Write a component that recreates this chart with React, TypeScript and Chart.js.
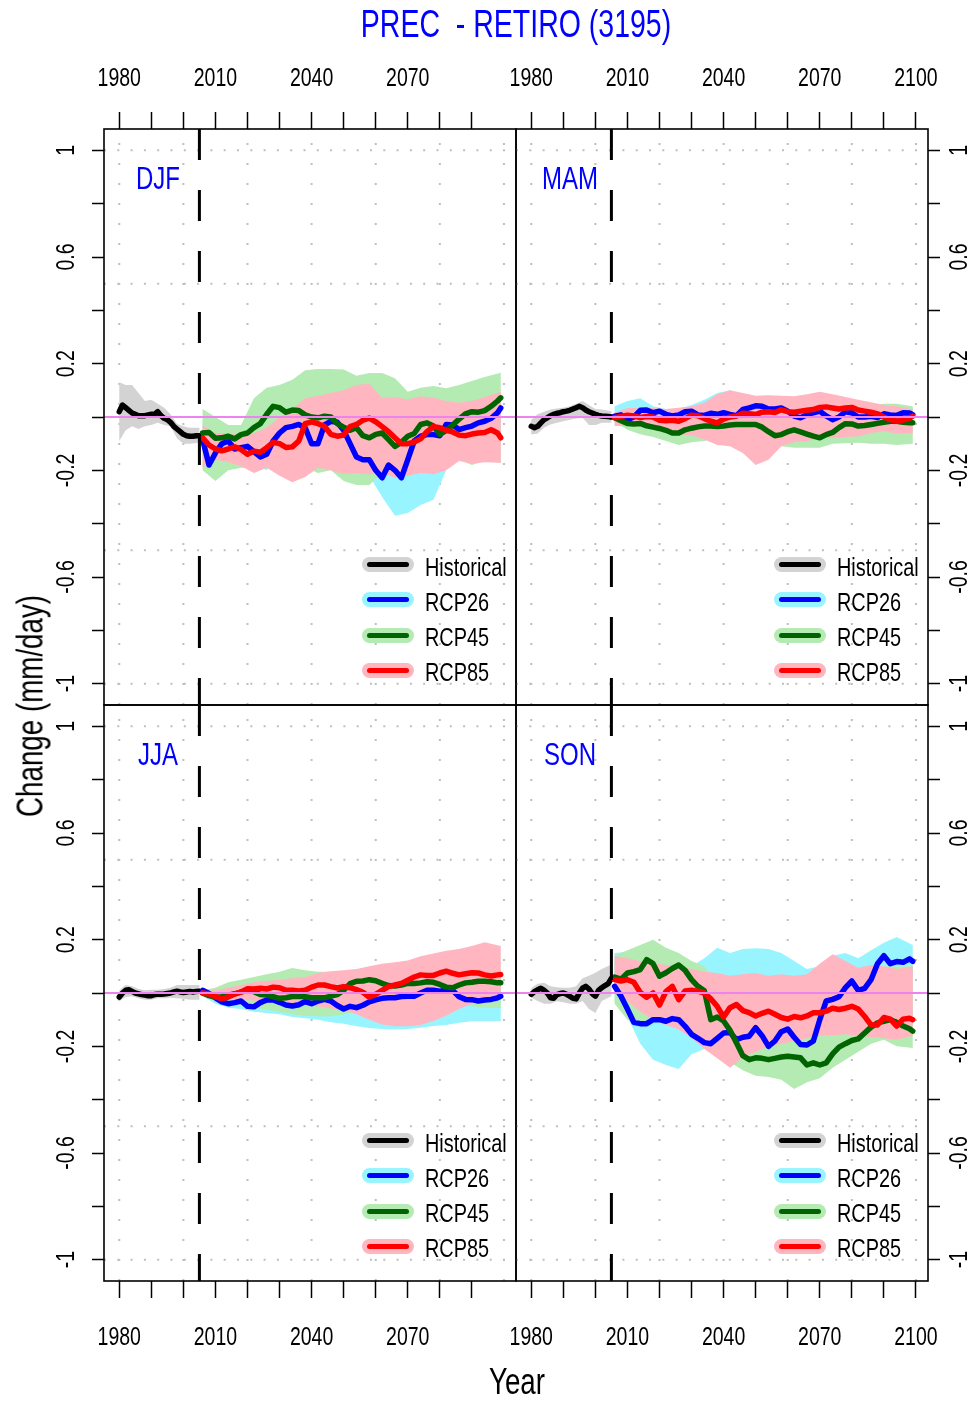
import React, { useEffect, useRef } from "react";
import { Chart, registerables } from "chart.js";

Chart.register(...registerables);

const PAGE_W = 978;
const PAGE_H = 1401;
const FONT = "'Liberation Sans', Arial, Helvetica, sans-serif";
const TEXT_SQUEEZE = 0.75;
const TICK_SIZE = 26;

const X_MIN = 1975.24;
const X_MAX = 2103.76;
const Y_MIN = -1.08;
const Y_MAX = 1.08;
const SCENARIO_START = 2005;
const ZERO = 0;

const X_TICKS_LEFT = [1980, 1990, 2000, 2010, 2020, 2030, 2040, 2050, 2060, 2070, 2080, 2090];
const X_TICKS_RIGHT = [1980, 1990, 2000, 2010, 2020, 2030, 2040, 2050, 2060, 2070, 2080, 2090, 2100];
const X_LABELS_LEFT = [1980, 2010, 2040, 2070];
const X_LABELS_RIGHT = [1980, 2010, 2040, 2070, 2100];
const Y_TICKS = [-1, -0.8, -0.6, -0.4, -0.2, 0, 0.2, 0.4, 0.6, 0.8, 1];
const Y_LABELS = [-1, -0.6, -0.2, 0.2, 0.6, 1];
const GRID_X = [1980, 2000, 2020, 2040, 2060, 2080, 2100];
const GRID_Y = [-1, -0.5, 0, 0.5, 1];

const SEASONS = ["DJF", "MAM", "JJA", "SON"];
const LEGEND_LABELS = ["Historical", "RCP26", "RCP45", "RCP85"];
const LINE_COLORS = ["#000000", "#0000FF", "#006400", "#FF0000"];
const BAND_COLORS = ["#D3D3D3", "#98F5FF", "#B3EBB3", "#FFB6C1"];
const ZERO_COLOR = "#EE82EE";
const GRID_COLOR = "#BEBEBE";

const HIST_YEARS = [1980, 1981, 1982, 1983, 1984, 1985, 1986, 1987, 1988, 1989, 1990, 1991, 1992, 1993, 1994, 1995, 1996, 1997, 1998, 1999, 2000, 2001, 2002, 2003, 2004, 2005];
const HIST_BAND_YEARS = [1980, 1982, 1984, 1986, 1988, 1990, 1992, 1994, 1996, 1998, 2000, 2002, 2005];
const RCP_YEARS = [2006, 2008, 2010, 2012, 2014, 2016, 2018, 2020, 2022, 2024, 2026, 2028, 2030, 2032, 2034, 2036, 2038, 2040, 2042, 2044, 2046, 2048, 2050, 2052, 2054, 2056, 2058, 2060, 2062, 2064, 2066, 2068, 2070, 2072, 2074, 2076, 2078, 2080, 2082, 2084, 2086, 2088, 2090, 2092, 2094, 2096, 2098, 2099];
const BAND_YEARS = [2006, 2010, 2014, 2018, 2022, 2026, 2030, 2034, 2038, 2042, 2046, 2050, 2054, 2058, 2062, 2066, 2070, 2074, 2078, 2082, 2086, 2090, 2094, 2099];

// ---------- DJF ----------
const DJF_HIST = [0.02, 0.045, 0.035, 0.025, 0.015, 0.01, 0.005, 0.005, 0.005, 0.008, 0.01, 0.01, 0.02, 0.005, -0.005, -0.01, -0.02, -0.035, -0.045, -0.055, -0.065, -0.07, -0.072, -0.072, -0.07, -0.07];
const DJF_HIST_LO = [-0.09, -0.05, -0.035, -0.045, -0.035, -0.03, -0.022, -0.03, -0.035, -0.08, -0.1, -0.1, -0.097];
const DJF_HIST_HI = [0.13, 0.12, 0.12, 0.09, 0.06, 0.065, 0.05, 0.035, 0.01, -0.025, -0.035, -0.04, -0.04];
const DJF_RCP26 = [-0.085, -0.18, -0.135, -0.1, -0.09, -0.12, -0.115, -0.11, -0.13, -0.15, -0.14, -0.09, -0.06, -0.04, -0.035, -0.028, -0.04, -0.1, -0.1, -0.03, -0.016, -0.02, -0.05, -0.1, -0.15, -0.16, -0.16, -0.2, -0.228, -0.18, -0.2, -0.228, -0.16, -0.09, -0.072, -0.066, -0.066, -0.07, -0.028, -0.03, -0.047, -0.04, -0.034, -0.022, -0.016, -0.005, 0.016, 0.034];
const DJF_RCP45 = [-0.06, -0.058, -0.08, -0.078, -0.072, -0.082, -0.066, -0.06, -0.04, -0.025, 0.01, 0.04, 0.035, 0.018, 0.026, 0.024, 0.008, 0.0, -0.003, 0.003, 0.0, -0.025, -0.038, -0.05, -0.04, -0.07, -0.078, -0.065, -0.06, -0.085, -0.11, -0.095, -0.072, -0.062, -0.028, -0.022, -0.034, -0.065, -0.05, -0.03, -0.008, 0.012, 0.02, 0.018, 0.024, 0.04, 0.06, 0.072];
const DJF_RCP85 = [-0.078, -0.105, -0.12, -0.127, -0.12, -0.112, -0.122, -0.14, -0.128, -0.132, -0.115, -0.095, -0.1, -0.114, -0.112, -0.09, -0.025, -0.018, -0.025, -0.035, -0.065, -0.072, -0.068, -0.036, -0.028, -0.012, -0.004, -0.018, -0.036, -0.055, -0.078, -0.1, -0.1, -0.094, -0.082, -0.055, -0.036, -0.04, -0.05, -0.056, -0.068, -0.07, -0.064, -0.06, -0.058, -0.048, -0.06, -0.078];
const DJF_26_LO = [-0.13, -0.23, -0.17, -0.18, -0.18, -0.2, -0.14, -0.12, -0.16, -0.2, -0.15, -0.15, -0.2, -0.22, -0.3, -0.37, -0.36, -0.33, -0.31, -0.2, -0.12, -0.1, -0.08, -0.05];
const DJF_26_HI = [-0.01, -0.03, -0.03, -0.05, -0.01, 0.01, 0.02, 0.04, 0.06, 0.08, 0.1, 0.08, 0.05, 0.03, 0.02, 0.0, 0.03, 0.05, 0.04, 0.04, 0.03, 0.04, 0.06, 0.08];
const DJF_45_LO = [-0.2, -0.24, -0.2, -0.19, -0.19, -0.19, -0.2, -0.2, -0.19, -0.21, -0.2, -0.24, -0.255, -0.255, -0.21, -0.2, -0.197, -0.197, -0.195, -0.18, -0.16, -0.18, -0.165, -0.172];
const DJF_45_HI = [0.03, 0.0, -0.03, -0.03, 0.07, 0.11, 0.12, 0.14, 0.175, 0.18, 0.18, 0.178, 0.155, 0.165, 0.165, 0.145, 0.095, 0.11, 0.116, 0.108, 0.12, 0.135, 0.15, 0.166];
const DJF_85_LO = [-0.19, -0.16, -0.17, -0.185, -0.21, -0.19, -0.22, -0.245, -0.225, -0.19, -0.2, -0.215, -0.21, -0.215, -0.21, -0.228, -0.22, -0.21, -0.215, -0.2, -0.165, -0.175, -0.17, -0.172];
const DJF_85_HI = [-0.03, -0.06, -0.06, -0.07, -0.06, -0.04, 0.0, 0.03, 0.07, 0.08, 0.09, 0.1, 0.12, 0.125, 0.07, 0.075, 0.066, 0.078, 0.072, 0.06, 0.053, 0.06, 0.075, 0.095];

// ---------- MAM ----------
const MAM_HIST = [-0.035, -0.04, -0.035, -0.022, -0.01, -0.003, 0.005, 0.01, 0.014, 0.016, 0.02, 0.022, 0.025, 0.03, 0.035, 0.04, 0.035, 0.026, 0.02, 0.015, 0.01, 0.006, 0.004, 0.003, 0.002, 0.0];
const MAM_HIST_LO = [-0.066, -0.062, -0.04, -0.028, -0.022, -0.016, -0.01, -0.006, -0.003, -0.03, -0.03, -0.022, -0.022];
const MAM_HIST_HI = [-0.01, 0.01, 0.02, 0.028, 0.032, 0.035, 0.04, 0.05, 0.06, 0.045, 0.03, 0.028, 0.022];
const MAM_RCP26 = [0.003, 0.008, -0.01, 0.0, 0.025, 0.026, 0.016, 0.022, 0.01, 0.004, 0.008, 0.02, 0.022, 0.008, 0.006, 0.014, 0.01, 0.016, 0.01, 0.005, 0.028, 0.034, 0.042, 0.04, 0.03, 0.03, 0.034, 0.022, 0.003, -0.003, 0.008, 0.016, 0.022, 0.004, -0.01, 0.0, 0.02, 0.016, 0.0, 0.0, 0.003, -0.002, 0.012, 0.008, 0.006, 0.016, 0.015, 0.009];
const MAM_RCP45 = [-0.003, -0.014, -0.024, -0.026, -0.024, -0.033, -0.038, -0.043, -0.05, -0.06, -0.06, -0.048, -0.042, -0.037, -0.034, -0.034, -0.036, -0.034, -0.03, -0.028, -0.028, -0.028, -0.028, -0.038, -0.055, -0.07, -0.066, -0.055, -0.048, -0.056, -0.064, -0.072, -0.078, -0.066, -0.058, -0.04, -0.025, -0.026, -0.034, -0.032, -0.028, -0.024, -0.02, -0.016, -0.016, -0.02, -0.022, -0.022];
const MAM_RCP85 = [-0.003, 0.002, 0.007, 0.004, -0.002, 0.002, 0.0, -0.012, -0.014, -0.012, -0.016, -0.006, 0.007, 0.005, -0.006, -0.016, -0.022, -0.008, 0.0, 0.004, 0.014, 0.012, 0.009, 0.018, 0.02, 0.017, 0.027, 0.02, 0.018, 0.022, 0.025, 0.028, 0.036, 0.038, 0.034, 0.03, 0.034, 0.036, 0.026, 0.022, 0.018, 0.012, 0.0, -0.01, -0.016, -0.012, -0.004, 0.003];
const MAM_26_LO = [-0.02, -0.04, -0.03, -0.03, -0.04, -0.04, -0.05, -0.05, -0.06, -0.055, -0.05, -0.05, -0.06, -0.055, -0.05, -0.045, -0.045, -0.05, -0.04, -0.04, -0.04, -0.04, -0.04, -0.03];
const MAM_26_HI = [0.04, 0.06, 0.07, 0.04, 0.03, 0.03, 0.045, 0.065, 0.09, 0.1, 0.08, 0.065, 0.065, 0.06, 0.05, 0.05, 0.05, 0.045, 0.04, 0.04, 0.04, 0.04, 0.04, 0.035];
const MAM_45_LO = [-0.02, -0.048, -0.065, -0.075, -0.09, -0.105, -0.095, -0.09, -0.075, -0.09, -0.09, -0.1, -0.105, -0.11, -0.115, -0.115, -0.115, -0.1, -0.098, -0.097, -0.1, -0.1, -0.105, -0.1];
const MAM_45_HI = [0.01, 0.02, 0.02, 0.02, 0.01, 0.015, 0.02, 0.03, 0.04, 0.04, 0.03, 0.02, 0.02, 0.03, 0.03, 0.04, 0.05, 0.05, 0.05, 0.04, 0.045, 0.05, 0.05, 0.04];
const MAM_85_LO = [-0.034, -0.034, -0.036, -0.04, -0.06, -0.066, -0.068, -0.084, -0.105, -0.11, -0.135, -0.18, -0.16, -0.11, -0.095, -0.09, -0.08, -0.078, -0.075, -0.072, -0.06, -0.053, -0.062, -0.06];
const MAM_85_HI = [0.016, 0.034, 0.034, 0.034, 0.03, 0.035, 0.04, 0.053, 0.085, 0.1, 0.09, 0.08, 0.082, 0.08, 0.078, 0.085, 0.095, 0.085, 0.075, 0.065, 0.055, 0.045, 0.04, 0.028];

// ---------- JJA ----------
const JJA_HIST = [-0.015, 0.0, 0.01, 0.012, 0.006, 0.0, -0.003, -0.006, -0.008, -0.01, -0.01, -0.006, -0.005, -0.005, -0.004, -0.002, 0.0, 0.004, 0.007, 0.004, 0.002, 0.004, 0.006, 0.004, 0.006, 0.007];
const JJA_HIST_LO = [-0.03, -0.015, -0.012, -0.02, -0.025, -0.025, -0.02, -0.02, -0.018, -0.02, -0.022, -0.025, -0.025];
const JJA_HIST_HI = [0.01, 0.03, 0.025, 0.015, 0.01, 0.012, 0.012, 0.015, 0.02, 0.03, 0.03, 0.03, 0.03];
const JJA_RCP26 = [0.01, -0.002, -0.018, -0.033, -0.04, -0.036, -0.03, -0.05, -0.052, -0.036, -0.026, -0.026, -0.035, -0.045, -0.049, -0.044, -0.032, -0.04, -0.03, -0.024, -0.03, -0.047, -0.06, -0.05, -0.055, -0.046, -0.033, -0.026, -0.02, -0.018, -0.018, -0.013, -0.012, -0.012, 0.0, 0.01, 0.01, 0.007, 0.01, 0.01, -0.014, -0.024, -0.025, -0.03, -0.026, -0.024, -0.018, -0.012];
const JJA_RCP45 = [0.0, -0.01, -0.016, -0.014, -0.008, -0.003, 0.003, 0.01, 0.005, -0.006, -0.008, -0.014, -0.02, -0.018, -0.013, -0.012, -0.014, -0.018, -0.018, -0.018, -0.012, -0.006, 0.01, 0.035, 0.044, 0.045, 0.05, 0.046, 0.036, 0.028, 0.026, 0.03, 0.036, 0.036, 0.038, 0.042, 0.04, 0.032, 0.022, 0.02, 0.03, 0.038, 0.04, 0.044, 0.044, 0.042, 0.038, 0.038];
const JJA_RCP85 = [0.0, -0.004, -0.014, -0.022, -0.015, -0.004, 0.004, 0.016, 0.015, 0.018, 0.015, 0.022, 0.02, 0.01, 0.01, 0.008, 0.01, 0.022, 0.03, 0.03, 0.024, 0.019, 0.024, 0.02, 0.013, 0.003, -0.016, -0.005, 0.01, 0.024, 0.03, 0.036, 0.048, 0.06, 0.068, 0.066, 0.066, 0.075, 0.082, 0.074, 0.068, 0.072, 0.076, 0.075, 0.068, 0.064, 0.068, 0.069];
const JJA_26_LO = [-0.012, -0.04, -0.055, -0.06, -0.07, -0.075, -0.08, -0.09, -0.095, -0.1, -0.11, -0.115, -0.125, -0.131, -0.135, -0.137, -0.135, -0.13, -0.124, -0.12, -0.112, -0.106, -0.106, -0.106];
const JJA_26_HI = [0.005, 0.005, 0.0, 0.0, 0.0, 0.005, 0.005, 0.01, 0.01, 0.012, 0.015, 0.015, 0.02, 0.02, 0.022, 0.025, 0.028, 0.03, 0.03, 0.032, 0.03, 0.03, 0.028, 0.03];
const JJA_45_LO = [-0.012, -0.025, -0.035, -0.045, -0.055, -0.062, -0.07, -0.08, -0.085, -0.087, -0.087, -0.08, -0.07, -0.06, -0.055, -0.05, -0.05, -0.045, -0.045, -0.043, -0.045, -0.05, -0.055, -0.056];
const JJA_45_HI = [0.01, 0.02, 0.04, 0.05, 0.06, 0.07, 0.08, 0.094, 0.085, 0.08, 0.08, 0.08, 0.085, 0.087, 0.095, 0.105, 0.113, 0.12, 0.11, 0.1, 0.1, 0.095, 0.094, 0.094];
const JJA_85_LO = [-0.012, -0.018, -0.022, -0.024, -0.028, -0.03, -0.032, -0.04, -0.045, -0.05, -0.058, -0.065, -0.08, -0.1, -0.118, -0.125, -0.125, -0.12, -0.105, -0.085, -0.06, -0.04, -0.025, -0.02];
const JJA_85_HI = [0.007, 0.01, 0.02, 0.03, 0.04, 0.045, 0.05, 0.055, 0.06, 0.075, 0.082, 0.085, 0.09, 0.1, 0.11, 0.115, 0.122, 0.138, 0.148, 0.158, 0.165, 0.176, 0.19, 0.176];

// ---------- SON ----------
const SON_HIST = [-0.005, 0.005, 0.012, 0.018, 0.01, 0.0, -0.018, -0.02, -0.006, -0.002, 0.0, -0.005, -0.012, -0.02, -0.022, 0.0, 0.018, 0.025, 0.015, -0.002, -0.012, 0.01, 0.02, 0.028, 0.035, 0.055];
const SON_HIST_LO = [-0.018, -0.03, -0.04, -0.04, -0.031, -0.035, -0.04, -0.04, -0.03, -0.06, -0.075, -0.03, -0.012];
const SON_HIST_HI = [0.019, 0.035, 0.038, 0.025, 0.022, 0.02, 0.02, 0.025, 0.055, 0.065, 0.076, 0.09, 0.107];
const SON_RCP26 = [0.025, -0.012, -0.06, -0.11, -0.115, -0.115, -0.1, -0.1, -0.106, -0.096, -0.1, -0.125, -0.155, -0.17, -0.186, -0.19, -0.17, -0.15, -0.148, -0.175, -0.166, -0.162, -0.13, -0.16, -0.2, -0.18, -0.145, -0.135, -0.166, -0.193, -0.195, -0.18, -0.1, -0.03, -0.024, -0.014, 0.02, 0.045, 0.01, 0.017, 0.05, 0.11, 0.14, 0.11, 0.118, 0.115, 0.128, 0.119];
const SON_RCP45 = [0.06, 0.052, 0.075, 0.08, 0.088, 0.125, 0.11, 0.063, 0.076, 0.092, 0.105, 0.085, 0.05, 0.025, 0.008, -0.1, -0.09, -0.105, -0.14, -0.187, -0.235, -0.25, -0.243, -0.245, -0.25, -0.245, -0.24, -0.237, -0.24, -0.243, -0.27, -0.262, -0.27, -0.262, -0.228, -0.203, -0.19, -0.178, -0.172, -0.15, -0.128, -0.112, -0.106, -0.1, -0.11, -0.124, -0.134, -0.143];
const SON_RCP85 = [0.05, 0.045, 0.05, 0.04, 0.002, -0.016, 0.0, -0.045, 0.005, 0.025, -0.025, 0.008, 0.01, 0.007, 0.0, -0.022, -0.05, -0.09, -0.055, -0.043, -0.066, -0.074, -0.086, -0.076, -0.068, -0.08, -0.092, -0.098, -0.088, -0.093, -0.086, -0.074, -0.074, -0.068, -0.057, -0.062, -0.057, -0.05, -0.06, -0.088, -0.12, -0.12, -0.092, -0.098, -0.124, -0.098, -0.095, -0.1];
const SON_26_LO = [-0.03, -0.09, -0.19, -0.25, -0.27, -0.285, -0.23, -0.21, -0.22, -0.25, -0.27, -0.28, -0.29, -0.3, -0.3, -0.27, -0.2, -0.15, -0.09, -0.04, -0.01, 0.02, 0.035, 0.06];
const SON_26_HI = [0.15, 0.155, 0.14, 0.14, 0.126, 0.11, 0.1, 0.13, 0.17, 0.15, 0.165, 0.168, 0.165, 0.15, 0.12, 0.09, 0.1, 0.14, 0.15, 0.13, 0.16, 0.188, 0.21, 0.18];
const SON_45_LO = [-0.04, -0.1, -0.11, -0.1, -0.11, -0.12, -0.135, -0.15, -0.2, -0.26, -0.29, -0.31, -0.315, -0.325, -0.36, -0.335, -0.32, -0.28, -0.25, -0.22, -0.19, -0.175, -0.2, -0.206];
const SON_45_HI = [0.14, 0.16, 0.18, 0.2, 0.17, 0.15, 0.12, 0.1, 0.03, 0.0, -0.03, -0.05, -0.05, -0.05, -0.05, -0.05, -0.03, 0.0, 0.02, 0.05, 0.08, 0.1, 0.1, 0.1];
const SON_85_LO = [0.02, -0.03, -0.07, -0.1, -0.12, -0.137, -0.17, -0.21, -0.245, -0.28, -0.24, -0.22, -0.2, -0.19, -0.18, -0.17, -0.16, -0.158, -0.155, -0.16, -0.165, -0.17, -0.175, -0.16];
const SON_85_HI = [0.138, 0.13, 0.12, 0.113, 0.105, 0.1, 0.09, 0.08, 0.075, 0.065, 0.07, 0.075, 0.065, 0.07, 0.065, 0.07, 0.11, 0.145, 0.12, 0.095, 0.105, 0.1, 0.09, 0.1];

// layout of the 2x2 panel grid (pixels)
const PANEL_LEFT = [104, 516];
const PANEL_RIGHT = [516, 928];
const PANEL_TOP = [129, 705];
const PANEL_BOTTOM = [705, 1281];
const OUTER_PAD = 40;

type PanelDef = {
  name: string; col: number; row: number;
  hist: number[]; histLo: number[]; histHi: number[];
  lines: number[][]; lows: number[][]; highs: number[][];
};

const PANELS: PanelDef[] = [
  { name: SEASONS[0], col: 0, row: 0, hist: DJF_HIST, histLo: DJF_HIST_LO, histHi: DJF_HIST_HI, lines: [DJF_RCP26, DJF_RCP45, DJF_RCP85], lows: [DJF_26_LO, DJF_45_LO, DJF_85_LO], highs: [DJF_26_HI, DJF_45_HI, DJF_85_HI] },
  { name: SEASONS[1], col: 1, row: 0, hist: MAM_HIST, histLo: MAM_HIST_LO, histHi: MAM_HIST_HI, lines: [MAM_RCP26, MAM_RCP45, MAM_RCP85], lows: [MAM_26_LO, MAM_45_LO, MAM_85_LO], highs: [MAM_26_HI, MAM_45_HI, MAM_85_HI] },
  { name: SEASONS[2], col: 0, row: 1, hist: JJA_HIST, histLo: JJA_HIST_LO, histHi: JJA_HIST_HI, lines: [JJA_RCP26, JJA_RCP45, JJA_RCP85], lows: [JJA_26_LO, JJA_45_LO, JJA_85_LO], highs: [JJA_26_HI, JJA_45_HI, JJA_85_HI] },
  { name: SEASONS[3], col: 1, row: 1, hist: SON_HIST, histLo: SON_HIST_LO, histHi: SON_HIST_HI, lines: [SON_RCP26, SON_RCP45, SON_RCP85], lows: [SON_26_LO, SON_45_LO, SON_85_LO], highs: [SON_26_HI, SON_45_HI, SON_85_HI] },
];

const pts = (xs: number[], ys: number[]) => xs.map((x, i) => ({ x, y: ys[i] }));
const polygon = (xs: number[], lo: number[], hi: number[]) => [...pts(xs, hi), ...pts(xs, lo).reverse()];
const fmt = (v: number) => String(v);

function measureWidest(labels: string[], size: number) {
  const c = document.createElement("canvas").getContext("2d")!;
  c.font = `${size}px ${FONT}`;
  return Math.max(...labels.map((l) => c.measureText(l).width));
}

// Horizontally condense canvas text (reference uses a narrow sans face)
const squeezePlugin = {
  id: "squeeze",
  beforeDraw(chart: any) {
    const ctx = chart.ctx;
    if (ctx.__squeezed) return;
    ctx.__squeezed = true;
    const orig = ctx.fillText;
    ctx.fillText = function (text: string, x: number, y: number, maxWidth?: number) {
      this.save();
      this.translate(x, y);
      this.scale(TEXT_SQUEEZE, 1);
      if (maxWidth === undefined) orig.call(this, text, 0, 0);
      else orig.call(this, text, 0, 0, maxWidth / TEXT_SQUEEZE);
      this.restore();
    };
  },
};

const framePlugin = {
  id: "frame",
  beforeDatasetsDraw(chart: any) {
    const { ctx, chartArea: a, scales } = chart;
    ctx.save();
    ctx.strokeStyle = GRID_COLOR;
    ctx.lineWidth = 2;
    ctx.setLineDash([2, 18]);
    GRID_X.forEach((v) => {
      const px = scales.x.getPixelForValue(v);
      ctx.beginPath();
      ctx.moveTo(px, a.bottom);
      ctx.lineTo(px, a.top);
      ctx.stroke();
    });
    ctx.setLineDash([2, 11.3]);
    GRID_Y.forEach((v) => {
      const py = scales.y.getPixelForValue(v);
      ctx.beginPath();
      ctx.moveTo(a.left, py);
      ctx.lineTo(a.right, py);
      ctx.stroke();
    });
    ctx.restore();
  },
  afterDraw(chart: any) {
    const { ctx, chartArea: a } = chart;
    ctx.save();
    ctx.strokeStyle = "#000";
    ctx.lineWidth = 1.6;
    ctx.strokeRect(a.left, a.top, a.right - a.left, a.bottom - a.top);
    ctx.restore();
  },
};

function buildConfig(d: PanelDef): any {
  const { col, row } = d;
  const L = PANEL_LEFT[col], R = PANEL_RIGHT[col], T = PANEL_TOP[row], B = PANEL_BOTTOM[row];
  const xTicks = col === 0 ? X_TICKS_LEFT : X_TICKS_RIGHT;
  const xLabels = col === 0 ? X_LABELS_LEFT : X_LABELS_RIGHT;
  const widest = measureWidest(Y_LABELS.map(fmt), TICK_SIZE);
  const yTickLen = 12;
  const yPad = col === 0 ? L - yTickLen - 66.5 - widest / 2 : 960 - R - yTickLen - widest / 2;

  const seq: any[] = [];
  seq.push({ label: "Historical band", data: polygon(HIST_BAND_YEARS, d.histLo, d.histHi), backgroundColor: BAND_COLORS[0], borderWidth: 0, fill: "shape" });
  for (let i = 0; i < 3; i++) {
    seq.push({ label: LEGEND_LABELS[i + 1] + " band", data: polygon(BAND_YEARS, d.lows[i], d.highs[i]), backgroundColor: BAND_COLORS[i + 1], borderWidth: 0, fill: "shape" });
  }
  seq.push({ label: LEGEND_LABELS[0], data: pts(HIST_YEARS, d.hist), borderColor: LINE_COLORS[0], borderWidth: 5.5, fill: false });
  for (let i = 0; i < 3; i++) {
    seq.push({ label: LEGEND_LABELS[i + 1], data: pts(RCP_YEARS, d.lines[i]), borderColor: LINE_COLORS[i + 1], borderWidth: 5.5, fill: false });
  }
  seq.push({ label: "zero", data: [{ x: X_MIN, y: ZERO }, { x: X_MAX, y: ZERO }], borderColor: ZERO_COLOR, borderWidth: 2, fill: false });
  seq.push({ label: "2005", data: [{ x: SCENARIO_START, y: Y_MAX }, { x: SCENARIO_START, y: Y_MIN }], borderColor: "#000", borderWidth: 3, borderDash: [31, 30], borderCapStyle: "butt", fill: false });
  const n = seq.length;
  const datasets = seq.map((ds, i) => ({ pointRadius: 0, tension: 0, borderCapStyle: "round", borderJoinStyle: "round", ...ds, order: n - i }));

  return {
    type: "line",
    data: { datasets },
    plugins: [squeezePlugin, framePlugin],
    options: {
      animation: false,
      responsive: false,
      devicePixelRatio: 1,
      events: [],
      layout: {
        padding: {
          left: col === 0 ? 0 : L,
          right: col === 0 ? PAGE_W - R : 0,
          top: row === 0 ? OUTER_PAD : T,
          bottom: row === 0 ? PAGE_H - B : OUTER_PAD,
        },
      },
      plugins: { legend: { display: false }, tooltip: { enabled: false }, title: { display: false } },
      scales: {
        x: {
          type: "linear",
          position: row === 0 ? "top" : "bottom",
          min: X_MIN,
          max: X_MAX,
          afterBuildTicks: (s: any) => { s.ticks = xTicks.map((value) => ({ value })); },
          afterFit: (s: any) => { s.height = row === 0 ? T - OUTER_PAD : PAGE_H - OUTER_PAD - B; },
          ticks: {
            autoSkip: false, minRotation: 0, maxRotation: 0,
            padding: row === 0 ? 18 : 24,
            color: "#000",
            font: { family: FONT, size: TICK_SIZE },
            callback: (v: number) => (xLabels.includes(v) ? String(v) : ""),
          },
          grid: { drawOnChartArea: false, drawTicks: true, tickLength: 17, tickColor: "#000", tickWidth: 1.5 },
          border: { display: false },
        },
        y: {
          type: "linear",
          position: col === 0 ? "left" : "right",
          min: Y_MIN,
          max: Y_MAX,
          afterBuildTicks: (s: any) => { s.ticks = Y_TICKS.map((value) => ({ value })); },
          afterFit: (s: any) => { s.width = col === 0 ? L : PAGE_W - R; },
          ticks: {
            autoSkip: false, minRotation: 90, maxRotation: 90, crossAlign: "center",
            padding: yPad,
            color: "#000",
            font: { family: FONT, size: TICK_SIZE },
            callback: (v: number) => (Y_LABELS.some((l) => Math.abs(l - v) < 1e-9) ? fmt(v) : ""),
          },
          grid: { drawOnChartArea: false, drawTicks: true, tickLength: yTickLen, tickColor: "#000", tickWidth: 1.5 },
          border: { display: false },
        },
      },
    },
  };
}

function Panel({ def }: { def: PanelDef }) {
  const ref = useRef<HTMLCanvasElement>(null);
  useEffect(() => {
    const chart = new Chart(ref.current!, buildConfig(def));
    return () => chart.destroy();
  }, [def]);
  return <canvas ref={ref} width={PAGE_W} height={PAGE_H} style={{ position: "absolute", left: 0, top: 0, width: PAGE_W, height: PAGE_H }} />;
}

function Legend({ def }: { def: PanelDef }) {
  const L = PANEL_LEFT[def.col], T = PANEL_TOP[def.row];
  return (
    <>
      {LEGEND_LABELS.map((name, i) => {
        const cy = T + 435.5 + i * 35.3;
        return (
          <React.Fragment key={name}>
            <div style={{ position: "absolute", left: L + 258, top: cy - 7.5, width: 52, height: 15, borderRadius: 7.5, background: BAND_COLORS[i] }}>
              <div style={{ position: "absolute", left: 5, top: 5, width: 42, height: 5, borderRadius: 2.5, background: LINE_COLORS[i] }} />
            </div>
            <div style={{ position: "absolute", left: L + 321, top: cy + 2, transform: `translateY(-50%) scaleX(${TEXT_SQUEEZE})`, transformOrigin: "left center", fontFamily: FONT, fontSize: 26.5, lineHeight: 1, color: "#000", whiteSpace: "nowrap" }}>{name}</div>
          </React.Fragment>
        );
      })}
    </>
  );
}

const textStyle = (x: number, y: number, size: number, color: string, extra = ""): React.CSSProperties => ({
  position: "absolute", left: x, top: y, transform: `translate(-50%, -50%) ${extra} scaleX(${TEXT_SQUEEZE})`, fontFamily: FONT, fontSize: size, lineHeight: 1, color, whiteSpace: "pre",
});

export default function App() {
  return (
    <div style={{ position: "absolute", left: 0, top: 0, width: PAGE_W, height: PAGE_H, background: "#fff", overflow: "hidden" }}>
      {PANELS.map((p) => <Panel key={p.name} def={p} />)}
      {PANELS.map((p) => <Legend key={p.name + "-legend"} def={p} />)}
      {PANELS.map((p) => (
        <div key={p.name + "-label"} style={textStyle(PANEL_LEFT[p.col] + 54, PANEL_TOP[p.row] + 49, 32, "#0000FF")}>{p.name}</div>
      ))}
      <div style={textStyle(516, 24, 38, "#0000FF")}>{"PREC  - RETIRO (3195)"}</div>
      <div style={textStyle(30, 706, 37, "#000", "rotate(-90deg)")}>Change (mm/day)</div>
      <div style={textStyle(517, 1381, 37, "#000")}>Year</div>
    </div>
  );
}
